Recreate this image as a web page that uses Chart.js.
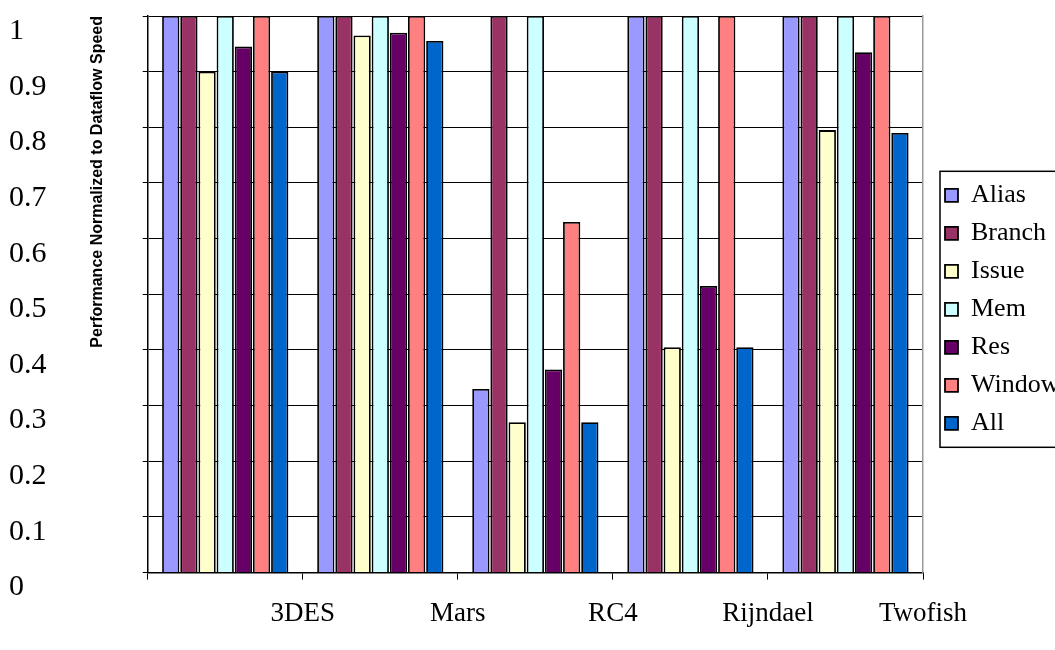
<!DOCTYPE html>
<html>
<head>
<meta charset="utf-8">
<script src="https://cdn.jsdelivr.net/npm/chart.js@4.4.1/dist/chart.umd.min.js"></script>
<style>
  html, body { margin: 0; padding: 0; background: #ffffff; overflow: hidden; width: 1055px; height: 650px; }
  #wrap { width: 1065px; height: 650px; }
</style>
</head>
<body>
<div id="wrap"><canvas id="chart" width="1065" height="650"></canvas></div>
<script>
// Benchmarks (one bar group each) and the axis captions
const benchmarks = ['3DES', 'Mars', 'RC4', 'Rijndael', 'Twofish'];
const benchmarkTickLabels = ['', '3DES', 'Mars', 'RC4', 'Rijndael', 'Twofish'];
const yTickLabels = ['0', '0.1', '0.2', '0.3', '0.4', '0.5', '0.6', '0.7', '0.8', '0.9', '1'];

// Performance normalized to dataflow speed, per benchmark
const seriesNames  = ['Alias', 'Branch', 'Issue', 'Mem', 'Res', 'Window', 'All'];
const aliasValues  = [1.00, 1.00, 0.33, 1.00, 1.00];
const branchValues = [1.00, 1.00, 1.00, 1.00, 1.00];
const issueValues  = [0.90, 0.965, 0.27, 0.405, 0.795];
const memValues    = [1.00, 1.00, 1.00, 1.00, 1.00];
const resValues    = [0.945, 0.97, 0.365, 0.515, 0.935];
const windowValues = [1.00, 1.00, 0.63, 1.00, 1.00];
const allValues    = [0.90, 0.955, 0.27, 0.405, 0.79];

const seriesValues = [aliasValues, branchValues, issueValues, memValues, resValues, windowValues, allValues];
const seriesColors = ['#9999FF', '#993366', '#FFFFCC', '#CCFFFF', '#660066', '#FF8080', '#0066CC'];

// Black frame around the legend entries
const legendFrame = {
  id: 'legendFrame',
  afterDraw(chart) {
    const lg = chart.legend;
    if (!lg || !lg.legendHitBoxes || !lg.legendHitBoxes.length) return;
    const boxes = lg.legendHitBoxes;
    const first = boxes[0];
    const last = boxes[boxes.length - 1];
    const ctx = chart.ctx;
    ctx.save();
    ctx.strokeStyle = '#000';
    ctx.lineWidth = 1.5;
    const top = first.top - 11;
    const bottom = last.top + last.height + 11;
    ctx.strokeRect(lg.left + 7, top, lg.width + 20, bottom - top);
    ctx.restore();
  }
};

const serifFont = 'Liberation Serif';

new Chart(document.getElementById('chart'), {
  type: 'bar',
  data: {
    labels: benchmarks,
    datasets: seriesNames.map((name, i) => ({
      label: name,
      data: seriesValues[i],
      backgroundColor: seriesColors[i],
      borderColor: '#000',
      borderWidth: 1.8,
      categoryPercentage: 0.82,
      barPercentage: 0.95
    }))
  },
  options: {
    responsive: false,
    animation: false,
    events: [],
    layout: { padding: { left: 9, top: 16, right: 0, bottom: 21 } },
    plugins: {
      legend: {
        position: 'right',
        align: 'center',
        fullSize: false,
        title: { display: true, text: '', padding: 0, font: { size: 25, lineHeight: 1.2 } },
        labels: {
          boxWidth: 13,
          boxHeight: 13,
          padding: 12,
          color: '#000',
          font: { family: serifFont, size: 26 }
        }
      },
      tooltip: { enabled: false }
    },
    scales: {
      x: {
        type: 'category',
        position: 'bottom',
        weight: 0,
        offset: true,
        grid: { display: true, offset: true, drawOnChartArea: false, drawTicks: true, tickLength: 7, color: '#000', lineWidth: 1 },
        border: { display: true, color: '#000', width: 1.5 },
        ticks: { display: false }
      },
      xNames: {
        type: 'category',
        labels: benchmarkTickLabels,
        position: 'bottom',
        weight: 1,
        offset: false,
        grid: { display: false },
        border: { display: false },
        ticks: {
          autoSkip: false, maxRotation: 0, minRotation: 0, padding: 10,
          color: '#000', font: { family: serifFont, size: 27 }
        },
        afterFit: (scale) => { scale.height = 49.4; }
      },
      y: {
        type: 'linear',
        position: 'left',
        weight: 0,
        min: 0,
        max: 1,
        ticks: { display: false, stepSize: 0.1 },
        grid: { color: '#000', lineWidth: 1, tickLength: 5 },
        border: { display: true, color: '#000', width: 1.5 },
        title: {
          display: true,
          text: 'Performance Normalized to Dataflow Speed',
          align: 'end',
          color: '#000',
          font: { family: 'Liberation Sans', size: 16, weight: 'bold' },
          padding: { top: 0, bottom: 36 }
        }
      },
      yNumbers: {
        type: 'linear',
        position: 'left',
        weight: 1,
        min: 0,
        max: 1,
        grid: { display: false },
        border: { display: false },
        ticks: {
          stepSize: 0.1,
          crossAlign: 'far',
          padding: 0,
          labelOffset: 15,
          color: '#000',
          font: { family: serifFont, size: 30, lineHeight: 1 },
          callback: (value, index) => yTickLabels[index]
        },
        afterFit: (scale) => { scale.width = 78.5; }
      },
      yRight: {
        type: 'linear',
        position: 'right',
        display: true,
        weight: 0,
        min: 0,
        max: 1,
        grid: { display: false },
        ticks: { display: false },
        border: { display: true, color: '#9a9a9a', width: 1.5 },
        afterFit: (scale) => { scale.width = 10; }
      }
    }
  },
  plugins: [legendFrame]
});
</script>
</body>
</html>
